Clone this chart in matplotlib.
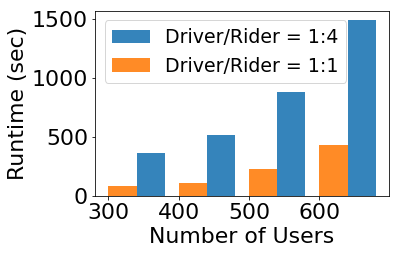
import numpy as np
import matplotlib
matplotlib.use("Agg")
import matplotlib.pyplot as plt

users = [300, 400, 500, 600]
runtime_1to4 = [362, 514, 876, 1491]
runtime_1to1 = [87, 110, 227, 430]
labels = ["Driver/Rider = 1:4", "Driver/Rider = 1:1"]

width = 40
x = np.array(users)

fig = plt.figure(figsize=(398 / 72, 254 / 72), dpi=72)
ax = fig.add_axes([0.2387, 0.2283, 0.9774 - 0.2387, 0.9567 - 0.2283])
ax.bar(x + width, runtime_1to4, width, align="edge", color="tab:blue", alpha=0.9, label=labels[0])
ax.bar(x, runtime_1to1, width, align="edge", color="tab:orange", alpha=0.9, label=labels[1])

ax.set_xticks(users)
ax.set_yticks([0, 500, 1000, 1500])
ax.tick_params(labelsize=22)
ax.set_xlabel("Number of Users", fontsize=22)
ax.set_ylabel("Runtime (sec)", fontsize=22)
ax.legend(loc="upper left", fontsize=19)

fig.savefig("out.png", dpi=72)
